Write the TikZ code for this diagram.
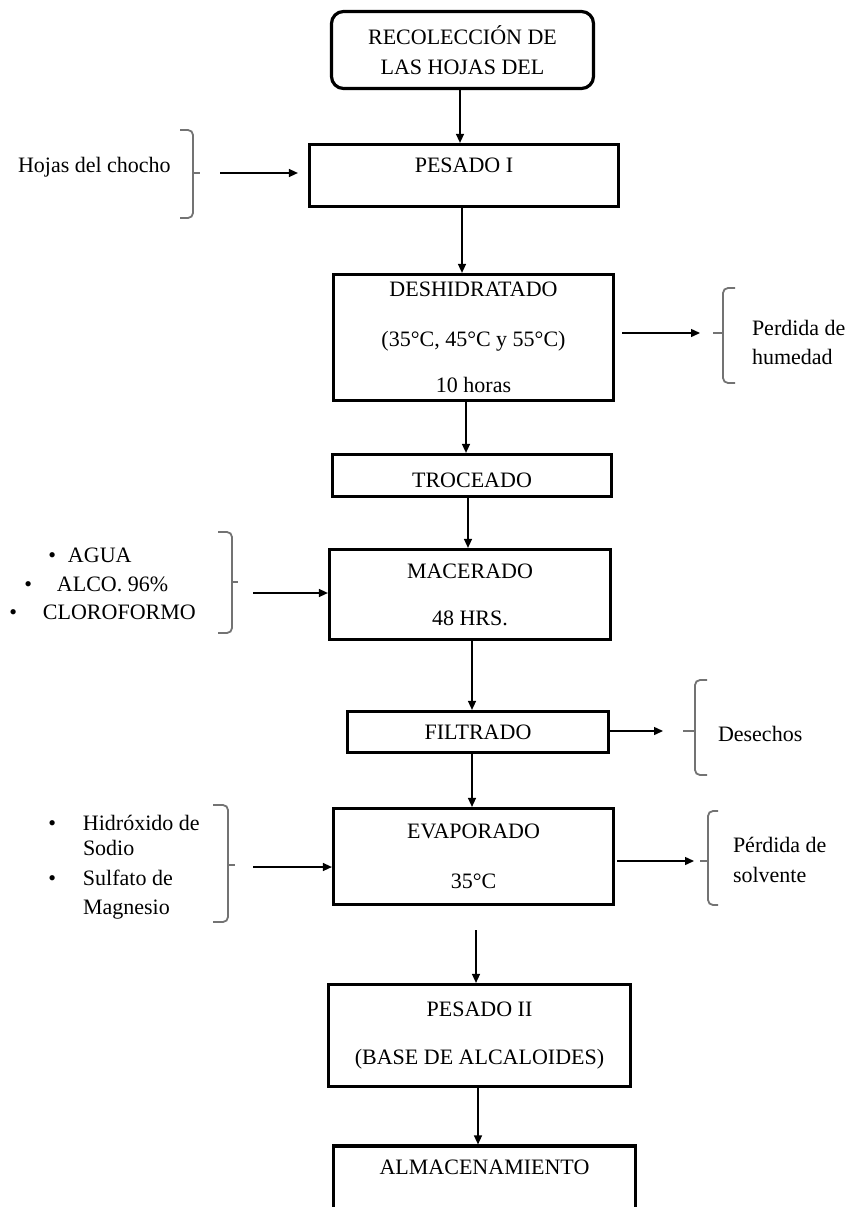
\documentclass[tikz,border=0pt]{standalone}
\usepackage{fontspec}
\setmainfont{Liberation Serif}
\usetikzlibrary{
arrows.meta,
positioning,
}
\tikzset{
outer sep=auto,
every node/.style={align=center},
process/.style={rectangle, draw, line width=3.2pt, inner sep=0pt},
terminal/.style={rectangle, rounded corners=12pt, draw, line width=3.2pt, inner sep=0pt},
nota/.style={inner sep=0pt, anchor=west, align=left},
llave/.style={draw=black!55, line width=1.8pt, rounded corners=5pt},
>={Triangle[length=9pt,width=8pt]},
}

\begin{document}
\begin{tikzpicture}[x=1pt, y=-1pt, font=\fontsize{22}{26}\selectfont, line width=1.4pt]
\useasboundingbox (0,0) rectangle (851,1207);
% linea principal del proceso
\node[terminal, minimum width=262pt, minimum height=77pt] (reco) at (462.5,50) {RECOLECCIÓN DE\\[4pt]LAS HOJAS DEL};
\node[process, minimum width=309pt, minimum height=62pt, text depth=21pt] (pesado1) at (464,175.5) {PESADO I};
\node[process, minimum width=280pt, minimum height=126pt] (deshid) at (473.5,337.5) {DESHIDRATADO\\[24pt](35°C, 45°C y 55°C)\\[20pt]10 horas};
\node[process, minimum width=279pt, minimum height=42pt, text height=24pt, text depth=0pt] (trocea) at (472,475.5) {TROCEADO};
\node[process, minimum width=281pt, minimum height=90pt] (macera) at (470,594.5) {MACERADO\\[21pt]48 HRS.};
\node[process, minimum width=261pt, minimum height=41pt] (filtra) at (478,732) {FILTRADO};
\node[process, minimum width=280pt, minimum height=96pt] (evapo) at (473.5,856.5) {EVAPORADO\\[24pt]35°C};
\node[process, minimum width=302pt, minimum height=102pt] (pesado2) at (479.5,1035.5) {PESADO II\\[22pt](BASE DE ALCALOIDES)};
\node[process, minimum width=302pt, minimum height=100pt, text depth=58.5pt] (almac) at (484.5,1196) {ALMACENAMIENTO};

\foreach \a/\b/\d/\s in {reco/pesado1/-2.5/0, pesado1/deshid/-2/0, deshid/trocea/-7.5/0,
    trocea/macera/-4/0, macera/filtra/2/0, filtra/evapo/-6/0, evapo/pesado2/2.5/24, pesado2/almac/-1.5/0}
  \draw[->, shorten <=\s pt] ([xshift=\d pt]\a.south) -- ([xshift=\d pt]\a.south |- \b.north);

% entradas
\node[nota] (hojas) at (18,167) {Hojas del chocho};
\draw[llave] (180,130) -- (193,130) -- (193,218) -- (180,218);
\draw[llave] (193,173) -- (200,173);
\coordinate (e1) at (220,173);
\draw[->, shorten >=10pt] (e1) -- (e1 -| pesado1.west);

\node[nota] (lista1) at (43,584) {\hspace*{25pt}\llap{\textbullet\hspace{12pt}}AGUA\\[2.5pt]\hspace*{14pt}\llap{\textbullet\hspace{25pt}}ALCO. 96\%\\[2.5pt]\llap{\textbullet\hspace{26pt}}CLOROFORMO};
\draw[llave] (218,532) -- (232,532) -- (232,633) -- (218,633);
\draw[llave] (232,582) -- (238,582);
\coordinate (e2) at (253,593);
\draw[->] (e2) -- (e2 -| macera.west);

\node[nota] (lista2) at (83,867) {\llap{\textbullet\hspace{27pt}}Hidróxido de\\[-1pt]Sodio\\[4pt]\llap{\textbullet\hspace{27pt}}Sulfato de\\[3pt]Magnesio};
\draw[llave] (213,805) -- (228,805) -- (228,922) -- (213,922);
\draw[llave] (228,865) -- (235,865);
\coordinate (e3) at (253,867);
\draw[->] (e3) -- (e3 -| evapo.west);

% salidas
\coordinate (s1) at (700,333);
\draw[->, shorten <=7pt] (s1 -| deshid.east) -- (s1);
\draw[llave] (735,288) -- (723,288) -- (723,383) -- (735,383);
\draw[llave] (723,333) -- (713,333);
\node[nota] (humedad) at (752,342) {Perdida de\\[3pt]humedad};

\coordinate (s2) at (663,731);
\draw[->] (s2 -| filtra.east) -- (s2);
\draw[llave] (707,680) -- (695,680) -- (695,775) -- (707,775);
\draw[llave] (695,731) -- (683,731);
\node[nota] (desechos) at (718,734) {Desechos};

\coordinate (s3) at (694,861);
\draw[->, shorten <=2pt] (s3 -| evapo.east) -- (s3);
\draw[llave] (718,811) -- (708,811) -- (708,905) -- (718,905);
\draw[llave] (708,861) -- (700,861);
\node[nota] (solvente) at (733,860) {Pérdida de\\[4pt]solvente};
\end{tikzpicture}
\end{document}
